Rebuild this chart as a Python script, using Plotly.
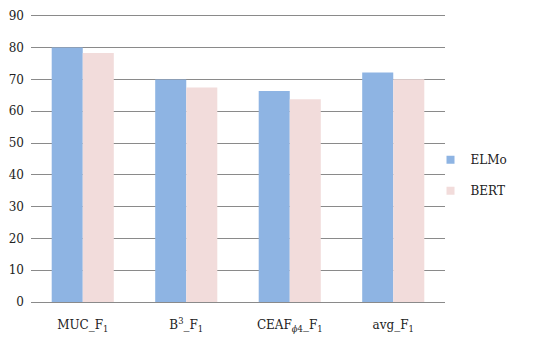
import plotly.graph_objects as go

# ── Data ─────────────────────────────────────────────
CATEGORIES = ["MUC_F<sub>1</sub>", "B<sup>3</sup>_F<sub>1</sub>",
              "CEAF<sub><i>ϕ</i>4</sub>_F<sub>1</sub>", "avg_F<sub>1</sub>"]
SERIES = ["ELMo", "BERT"]
ELMO = [80.1, 70.0, 66.4, 72.2]
BERT = [78.3, 67.5, 63.8, 70.1]
Y_TICKS = list(range(0, 100, 10))

# ── Style ────────────────────────────────────────────
FONT_FAM = "DejaVu Serif"
GRID = "#8a8a8a"
COLORS = ["#8EB4E3", "#F2DCDB"]

fig = go.Figure()
for name, vals, col in zip(SERIES, [ELMO, BERT], COLORS):
    fig.add_trace(go.Bar(
        x=CATEGORIES, y=vals, name=name, showlegend=False,
        marker=dict(color=col, line=dict(width=0)),
    ))
    # small square legend swatch, like the original
    fig.add_trace(go.Scatter(
        x=[None], y=[None], mode="markers", name=name, legendgroup=name,
        marker=dict(symbol="square", size=8, color=col),
    ))

# page body has an 8px margin, so the figure is sized to the remaining area
fig.update_layout(
    width=532, height=336,
    paper_bgcolor="white", plot_bgcolor="white",
    font=dict(family=FONT_FAM, color="#222222", size=12),
    margin=dict(l=23, r=95, t=6, b=42, autoexpand=False),
    barmode="group", bargap=0.40, bargroupgap=0,
    xaxis=dict(showgrid=False, showline=False, ticks="", automargin=False,
               ticklabelstandoff=14, tickfont=dict(size=12)),
    yaxis=dict(range=[0, 90.6], tickvals=Y_TICKS, showgrid=True,
               gridcolor=GRID, gridwidth=1, zeroline=True, automargin=False,
               zerolinecolor=GRID, zerolinewidth=1, showline=False,
               ticks="", ticklabelstandoff=6, tickfont=dict(size=12)),
    legend=dict(x=0.965, y=0.44, yanchor="middle", xanchor="left",
                font=dict(size=12), itemwidth=30, tracegroupgap=12,
                bgcolor="rgba(0,0,0,0)"),
)

fig.write_html("out.html")
